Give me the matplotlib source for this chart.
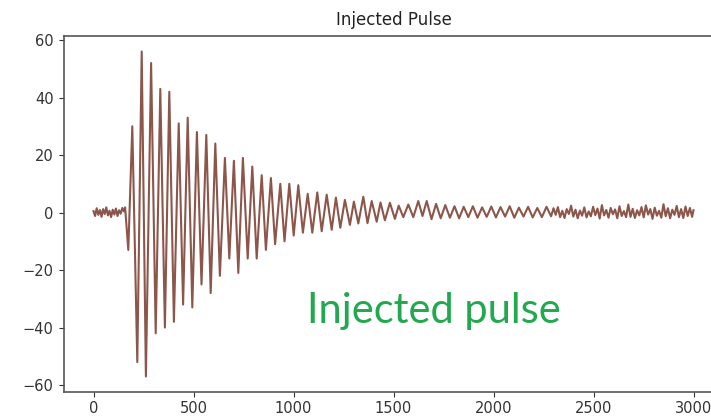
import matplotlib
matplotlib.use("Agg")
import matplotlib.pyplot as plt

plt.rcParams["font.family"] = ["DejaVu Sans"]

# Quiet baseline before the pulse arrives (sample index, amplitude)
pre_x = [0, 8, 16, 24, 32, 40, 48, 56, 64, 72, 80, 88, 96, 104, 112, 120,
         128, 136, 144, 152, 158]
pre_y = [0.5, -1.2, 1.5, -0.8, 0.9, -1.5, 1.2, -0.5, 1.8, -1.0, 0.6, -1.6,
         1.0, -0.7, 1.4, -1.2, 0.8, -0.4, 1.6, 0.4, 1.8]

# Ringing of the injected pulse: alternating crests and troughs
ring_x = [174, 194, 219, 241, 262, 288, 311, 334, 357, 379, 402, 426, 448,
          471, 494, 517, 540, 564, 586, 609, 632, 657, 679, 702, 724, 747,
          771, 794, 816, 841, 862, 887, 908, 934, 955, 979, 1001, 1024, 1047,
          1071, 1094, 1119, 1141, 1166, 1191, 1212, 1234, 1257, 1282, 1302,
          1324, 1349, 1370, 1391, 1416, 1435, 1457, 1482, 1507, 1526, 1549,
          1574, 1599, 1624, 1645, 1666]
ring_y = [-13, 30, -52, 56, -57, 52, -42, 43, -40, 42, -38, 31, -32,
          33, -33, 28, -25, 27, -28, 24, -22, 19, -16, 18, -21, 19,
          -16, 16, -16, 13, -13, 12, -11, 10, -10, 10, -8, 9.5, -7,
          6.5, -7, 7, -6.5, 6.2, -6, 5.2, -5.3, 4.4, -4.3, 3.8,
          -3.8, 5.5, -3.7, 4.0, -3.2, 3.5, -2.7, 3.4, -2.2, 2.4, -1.6,
          2.8, -1.6, 4.0, -1.2, 4.0]

# Weak leftover oscillation
late_x = [1690, 1713, 1736, 1759, 1782, 1805, 1828, 1851, 1874, 1897, 1920,
          1943, 1966, 1989, 2012, 2035, 2058, 2081, 2104, 2127, 2150, 2173,
          2196, 2219, 2242, 2265, 2288]
late_y = [-2.3, 3.0, -2.0, 2.6, -1.8, 2.2, -2.0, 2.0, -1.6, 2.2, -1.8,
          1.8, -1.5, 2.1, -1.7, 1.9, -1.4, 2.2, -1.8, 1.7, -1.4, 2.0,
          -1.7, 1.6, -1.6, 2.0, -1.3]

# Background noise at the end of the record
tail_x = [2300, 2311, 2322, 2333, 2344, 2355, 2366, 2377, 2388, 2399, 2410,
          2421, 2432, 2443, 2454, 2465, 2476, 2487, 2498, 2509, 2520, 2531,
          2542, 2553, 2564, 2575, 2586, 2597, 2608, 2619, 2630, 2641, 2652,
          2663, 2674, 2685, 2696, 2707, 2718, 2729, 2740, 2751, 2762, 2773,
          2784, 2795, 2806, 2817, 2828, 2839, 2850, 2861, 2872, 2883, 2894,
          2905, 2916, 2927, 2938, 2949, 2960, 2971, 2982, 2993, 3000]
tail_y = [1.5, -0.8, 1.9, -1.6, 0.6, -1.9, 1.2, -0.5, 2.4, -1.4, 1.0,
          -2.0, 0.7, -1.1, 1.8, -1.7, 0.4, -1.3, 2.0, -0.9, 1.4, -2.1,
          2.6, -1.0, 0.9, -1.8, 1.6, -0.6, 1.1, -2.0, 2.2, -1.2, 0.5,
          -1.6, 2.8, -1.5, 1.3, -1.9, 0.8, -1.0, 1.9, -1.7, 2.5, -0.7,
          1.2, -2.2, 1.7, -1.1, 0.6, -1.8, 2.9, -1.3, 1.5, -2.0, 1.0,
          -0.8, 2.3, -1.6, 1.2, -1.9, 2.1, -1.2, 1.6, -1.5, 0.8]

x_ticks = [0, 500, 1000, 1500, 2000, 2500, 3000]
y_ticks = [-60, -40, -20, 0, 20, 40, 60]

sig_x = pre_x + ring_x + late_x + tail_x
sig_y = pre_y + ring_y + late_y + tail_y

W, H = 711, 419
fig = plt.figure(figsize=(W / 100, H / 100), dpi=100)
ax = fig.add_axes([63.5 / W, 1 - 391.7 / H, 660 / W, (391.7 - 35.7) / H])

ax.plot(sig_x, sig_y, color="#8c564b", lw=1.5)

ax.set_xlim(-150, 3150)
ax.set_ylim(-62.3, 61.5)
ax.set_xticks(x_ticks)
ax.set_yticks(y_ticks)
ax.tick_params(labelsize=10.5, colors="#333333")
for s in ax.spines.values():
    s.set_color("#555555")
    s.set_linewidth(1.2)

ax.set_title("Injected Pulse", fontsize=12, color="#222222", pad=8)

fig.text(306.7 / W, 1 - 323 / H, "Injected pulse", color="#22a84f",
         fontsize=30, family="Lato", va="baseline", ha="left")

fig.savefig("out.png", dpi=100)
